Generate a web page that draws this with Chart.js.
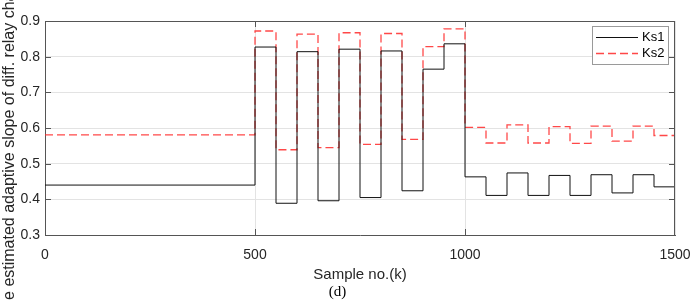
<!DOCTYPE html>
<html>
<head>
<meta charset="utf-8">
<script src="https://cdn.jsdelivr.net/npm/chart.js@4.4.0/dist/chart.umd.min.js"></script>
<style>
html,body{margin:0;padding:0;background:#fff;}
canvas{display:block;}
</style>
</head>
<body>
<canvas id="c" width="690" height="300"></canvas>
<script>
// Segment boundaries (sample numbers)
const sampleEdges = [0, 500, 550, 600, 650, 700, 750, 800, 850, 900, 950, 1000, 1050, 1100, 1150, 1200, 1250, 1300, 1350, 1400, 1450, 1500];
// Value held on each segment
const ks1Values = [0.440, 0.827, 0.389, 0.814, 0.396, 0.821, 0.405, 0.816, 0.424, 0.765, 0.836, 0.463, 0.411, 0.474, 0.411, 0.467, 0.411, 0.469, 0.418, 0.469, 0.435];
const ks2Values = [0.581, 0.872, 0.539, 0.863, 0.545, 0.867, 0.554, 0.865, 0.568, 0.828, 0.878, 0.602, 0.558, 0.609, 0.558, 0.604, 0.557, 0.605, 0.563, 0.605, 0.579];
const xTicks = [0, 500, 1000, 1500];
const yTicks = [0.3, 0.4, 0.5, 0.6, 0.7, 0.8, 0.9];
const seriesLabels = ['Ks1', 'Ks2'];

function toSteps(values) {
  const pts = values.map((v, i) => ({x: sampleEdges[i], y: v}));
  pts.push({x: sampleEdges[sampleEdges.length - 1], y: values[values.length - 1]});
  return pts;
}

const AXIS = '#555555';
const TEXT = '#262626';
const SANS = "'Liberation Sans', Arial, sans-serif";

const boxPlugin = {
  id: 'boxPlugin',
  afterDatasetsDraw(chart) {
    const {ctx, chartArea: a, scales: {x, y}} = chart;
    ctx.save();
    ctx.strokeStyle = AXIS;
    ctx.lineWidth = 1;
    ctx.beginPath();
    ctx.moveTo(a.left, a.top + 0.5); ctx.lineTo(a.right, a.top + 0.5);
    ctx.moveTo(a.right - 0.5, a.top); ctx.lineTo(a.right - 0.5, a.bottom);
    const tl = 6;
    yTicks.slice(1, -1).forEach(v => {
      const py = Math.round(y.getPixelForValue(v)) + 0.5;
      ctx.moveTo(a.left, py); ctx.lineTo(a.left + tl, py);
      ctx.moveTo(a.right, py); ctx.lineTo(a.right - tl, py);
    });
    xTicks.slice(1, -1).forEach(v => {
      const px = Math.round(x.getPixelForValue(v)) + 0.5;
      ctx.moveTo(px, a.bottom); ctx.lineTo(px, a.bottom - tl);
      ctx.moveTo(px, a.top); ctx.lineTo(px, a.top + tl);
    });
    ctx.stroke();

    // legend box
    const lx = a.right - 83, ly = a.top + 5, lw = 76, lh = 38;
    ctx.fillStyle = '#ffffff';
    ctx.fillRect(lx, ly, lw, lh);
    ctx.strokeStyle = '#9a9a9a';
    ctx.strokeRect(lx + 0.5, ly + 0.5, lw, lh);
    chart.data.datasets.forEach((ds, i) => {
      const cy = ly + 11.5 + i * 16;
      ctx.beginPath();
      ctx.strokeStyle = ds.borderColor;
      ctx.lineWidth = ds.borderWidth;
      ctx.setLineDash(ds.borderDash || []);
      ctx.moveTo(lx + 4, cy); ctx.lineTo(lx + 46, cy);
      ctx.stroke();
      ctx.setLineDash([]);
      ctx.fillStyle = '#000';
      ctx.font = '13px ' + SANS;
      ctx.textBaseline = 'middle';
      ctx.textAlign = 'left';
      ctx.fillText(ds.label, lx + 50, cy);
    });
    ctx.restore();
  }
};

new Chart(document.getElementById('c'), {
  type: 'line',
  data: {
    datasets: [
      {
        label: seriesLabels[0],
        data: toSteps(ks1Values),
        stepped: true,
        borderColor: '#111111',
        borderWidth: 1,
        pointRadius: 0,
        fill: false
      },
      {
        label: seriesLabels[1],
        data: toSteps(ks2Values),
        stepped: true,
        borderColor: 'rgba(255,40,40,0.85)',
        borderWidth: 1.3,
        borderDash: [8, 4],
        pointRadius: 0,
        fill: false
      }
    ]
  },
  options: {
    responsive: false,
    animation: false,
    devicePixelRatio: 1,
    layout: {padding: {top: 21, right: 15, left: 0, bottom: 0}},
    plugins: {
      legend: {display: false},
      tooltip: {enabled: false},
      title: {
        display: true,
        position: 'bottom',
        text: '(d)',
        color: '#000',
        font: {family: "'Liberation Serif', 'Times New Roman', serif", size: 15, weight: 'normal', lineHeight: 1},
        padding: 0
      }
    },
    scales: {
      x: {
        type: 'linear',
        min: 0, max: 1500,
        afterBuildTicks: s => { s.ticks = xTicks.map(v => ({value: v})); },
        afterFit: s => { s.height = 50; s.paddingLeft = 0; s.paddingRight = 0; },
        grid: {color: '#e3e3e3', drawTicks: false},
        border: {color: AXIS, width: 1},
        ticks: {color: TEXT, font: {family: SANS, size: 14}, padding: 12, maxRotation: 0, callback: v => String(v)},
        title: {display: true, text: 'Sample no.(k)', color: TEXT, font: {family: SANS, size: 15}, padding: {top: 0, bottom: 1}}
      },
      y: {
        min: 0.3, max: 0.9,
        afterBuildTicks: s => { s.ticks = yTicks.map(v => ({value: v})); },
        afterFit: s => { s.width = 45; s.paddingTop = 0; s.paddingBottom = 0; },
        grid: {color: '#e3e3e3', drawTicks: false},
        border: {color: AXIS, width: 1},
        ticks: {color: TEXT, font: {family: SANS, size: 14}, padding: 5, callback: v => v.toFixed(1)},
        title: {display: true, text: '   The estimated adaptive slope of diff. relay characteristic', color: TEXT, font: {family: SANS, size: 16}, padding: {top: 0, bottom: 0}}
      }
    }
  },
  plugins: [boxPlugin]
});
</script>
</body>
</html>
